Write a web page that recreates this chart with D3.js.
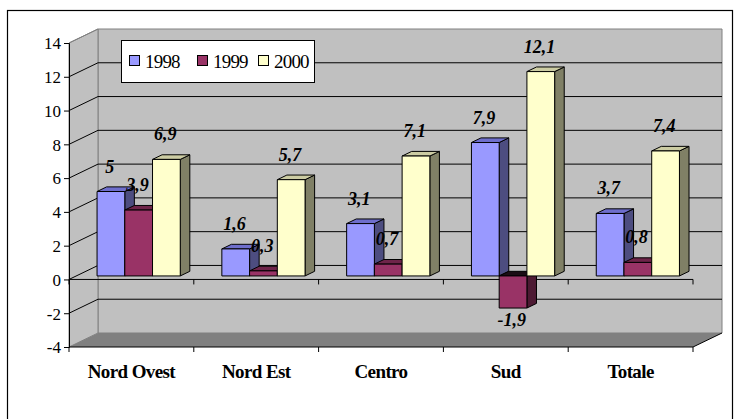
<!DOCTYPE html>
<html>
<head>
<meta charset="utf-8">
<script src="https://cdn.jsdelivr.net/npm/d3@7"></script>
<style>
  html, body { margin: 0; padding: 0; background: #fff; }
  svg { display: block; }
</style>
</head>
<body>
<svg id="chart" width="737" height="419"></svg>
<script>
// Regions and yearly series
const categories = ["Nord Ovest", "Nord Est", "Centro", "Sud", "Totale"];
const seriesNames = ["1998", "1999", "2000"];
const values1998 = [5, 1.6, 3.1, 7.9, 3.7];
const values1999 = [3.9, 0.3, 0.7, -1.9, 0.8];
const values2000 = [6.9, 5.7, 7.1, 12.1, 7.4];
const valueTicks = [-4, -2, 0, 2, 4, 6, 8, 10, 12, 14];

const seriesValues = [values1998, values1999, values2000];
const SERIF = "'Liberation Serif', 'Times New Roman', Times, serif";

// face colours: front, top, side
const palette = {
  "1998": { front: "#9999FF", top: "#6E6ECC", side: "#4D4D80" },
  "1999": { front: "#993366", top: "#6E2449", side: "#4D1A33" },
  "2000": { front: "#FFFFCC", top: "#CCCCA3", side: "#808066" }
};

const svg = d3.select("#chart");

// outer frame
svg.append("rect")
  .attr("x", 7.5).attr("y", 10.5)
  .attr("width", 725).attr("height", 420)
  .attr("fill", "#fff").attr("stroke", "#000").attr("stroke-width", 1.2);

// 3D plot box: front plane and depth offset
const left = 69, right = 693;
const depthX = 29, depthY = -14;

const y = d3.scaleLinear().domain([-4, 14]).range([347, 43]);
const x = d3.scaleBand().domain(categories).range([left, right]).padding(0);
const xs = d3.scaleBand().domain(seriesNames)
  .range([0, x.bandwidth()]).paddingInner(0).paddingOuter(0.75);

// project a point at value v, horizontal position px and depth fraction f
const P = (px, v, f) => [px + depthX * f, y(v) + depthY * f];
const poly = pts => pts.map(p => p.join(",")).join(" ");

const yMin = y.domain()[0], yMax = y.domain()[1];

// back wall
svg.append("polygon")
  .attr("points", poly([P(left, yMax, 1), P(right, yMax, 1), P(right, yMin, 1), P(left, yMin, 1)]))
  .attr("fill", "#C0C0C0").attr("stroke", "#808080").attr("stroke-width", 1);

// side wall
svg.append("polygon")
  .attr("points", poly([P(left, yMax, 0), P(left, yMax, 1), P(left, yMin, 1), P(left, yMin, 0)]))
  .attr("fill", "#C0C0C0").attr("stroke", "#808080").attr("stroke-width", 1);

// floor
svg.append("polygon")
  .attr("points", poly([P(left, yMin, 0), P(left, yMin, 1), P(right, yMin, 1), P(right, yMin, 0)]))
  .attr("fill", "#808080").attr("stroke", "none");
svg.append("line")
  .attr("x1", P(right, yMin, 0)[0]).attr("y1", P(right, yMin, 0)[1])
  .attr("x2", P(right, yMin, 1)[0]).attr("y2", P(right, yMin, 1)[1])
  .attr("stroke", "#000");

// gridlines on side and back walls
const grid = svg.append("g").attr("stroke", "#000").attr("stroke-width", 1).attr("fill", "none");
valueTicks.filter(t => t > yMin && t < yMax).forEach(t => {
  grid.append("polyline").attr("points", poly([P(left, t, 0), P(left, t, 1), P(right, t, 1)]));
});
{
  const a = P(left, yMax, 0), b = P(left, yMax, 1);
  grid.append("line").attr("x1", a[0]).attr("y1", a[1]).attr("x2", b[0]).attr("y2", b[1]).attr("stroke", "#808080");
}

// value axis
const yAxis = d3.axisLeft(y).tickValues(valueTicks).tickSize(5).tickPadding(3).tickFormat(d => String(d));
const yAxisG = svg.append("g").attr("transform", `translate(${left},0)`).call(yAxis)
  .attr("font-family", SERIF).attr("font-size", 17);
yAxisG.select(".domain").attr("stroke", "#000");
yAxisG.selectAll(".tick line").attr("stroke", "#000");
yAxisG.selectAll(".tick text")
  .attr("font-family", SERIF)
  .attr("font-size", 17).attr("fill", "#000").attr("dy", "0.34em");

// category axis line at zero and along the floor front edge
const boundaries = categories.map(c => x(c)).concat([right]);
[0, yMin].forEach(v => {
  const g = svg.append("g");
  g.append("line").attr("x1", left).attr("x2", right)
    .attr("y1", y(v)).attr("y2", y(v)).attr("stroke", "#000");
  boundaries.forEach(bx => {
    g.append("line").attr("x1", bx).attr("x2", bx)
      .attr("y1", y(v)).attr("y2", y(v) + 5).attr("stroke", "#000");
  });
});

// category labels
svg.append("g").selectAll("text").data(categories).join("text")
  .attr("x", d => x(d) + x.bandwidth() / 2)
  .attr("y", 378)
  .attr("text-anchor", "middle")
  .attr("font-family", SERIF)
  .attr("font-size", 19).attr("font-weight", "bold")
  .attr("letter-spacing", -0.6)
  .text(d => d);

// bars
const fFront = 0.25, fBack = 0.58;
const bars = svg.append("g").attr("stroke", "#000").attr("stroke-width", 1).attr("stroke-linejoin", "round");
const labels = [];
categories.forEach((cat, i) => {
  seriesNames.forEach((s, j) => {
    const v = seriesValues[j][i];
    const x0 = x(cat) + xs(s), x1 = x0 + xs.bandwidth();
    const vTop = Math.max(v, 0), vBot = Math.min(v, 0);
    const col = palette[s];
    // side face
    bars.append("polygon")
      .attr("points", poly([P(x1, vTop, fFront), P(x1, vTop, fBack), P(x1, vBot, fBack), P(x1, vBot, fFront)]))
      .attr("fill", col.side);
    // top face
    bars.append("polygon")
      .attr("points", poly([P(x0, vTop, fFront), P(x0, vTop, fBack), P(x1, vTop, fBack), P(x1, vTop, fFront)]))
      .attr("fill", v < 0 ? "#1A0D14" : col.top);
    // front face
    bars.append("polygon")
      .attr("points", poly([P(x0, vTop, fFront), P(x1, vTop, fFront), P(x1, vBot, fFront), P(x0, vBot, fFront)]))
      .attr("fill", col.front);
    labels.push({ v, cx: (x0 + x1) / 2 + 6, yTop: P(x0, vTop, fFront)[1], yBot: P(x0, vBot, fFront)[1] });
  });
});

// value labels
const fmt = v => String(v).replace(".", ",");
svg.append("g").selectAll("text").data(labels).join("text")
  .attr("x", d => d.cx)
  .attr("y", d => d.v < 0 ? d.yBot + 18 : d.yTop - 19)
  .attr("text-anchor", "middle")
  .attr("font-family", SERIF)
  .attr("font-size", 18).attr("font-weight", "bold").attr("font-style", "italic")
  .text(d => fmt(d.v));

// legend
const legend = svg.append("g");
legend.append("rect")
  .attr("x", 121.5).attr("y", 40.5).attr("width", 193).attr("height", 42)
  .attr("fill", "#fff").attr("stroke", "#000");
const legendX = [129, 197, 258];
seriesNames.forEach((s, j) => {
  legend.append("rect")
    .attr("x", legendX[j] + 0.5).attr("y", 55.5).attr("width", 10).attr("height", 10)
    .attr("fill", palette[s].front).attr("stroke", "#000");
  legend.append("text")
    .attr("x", legendX[j] + 16).attr("y", 68)
    .attr("font-family", SERIF)
    .attr("font-size", 19)
    .attr("letter-spacing", -0.8)
    .text(s);
});
</script>
</body>
</html>
